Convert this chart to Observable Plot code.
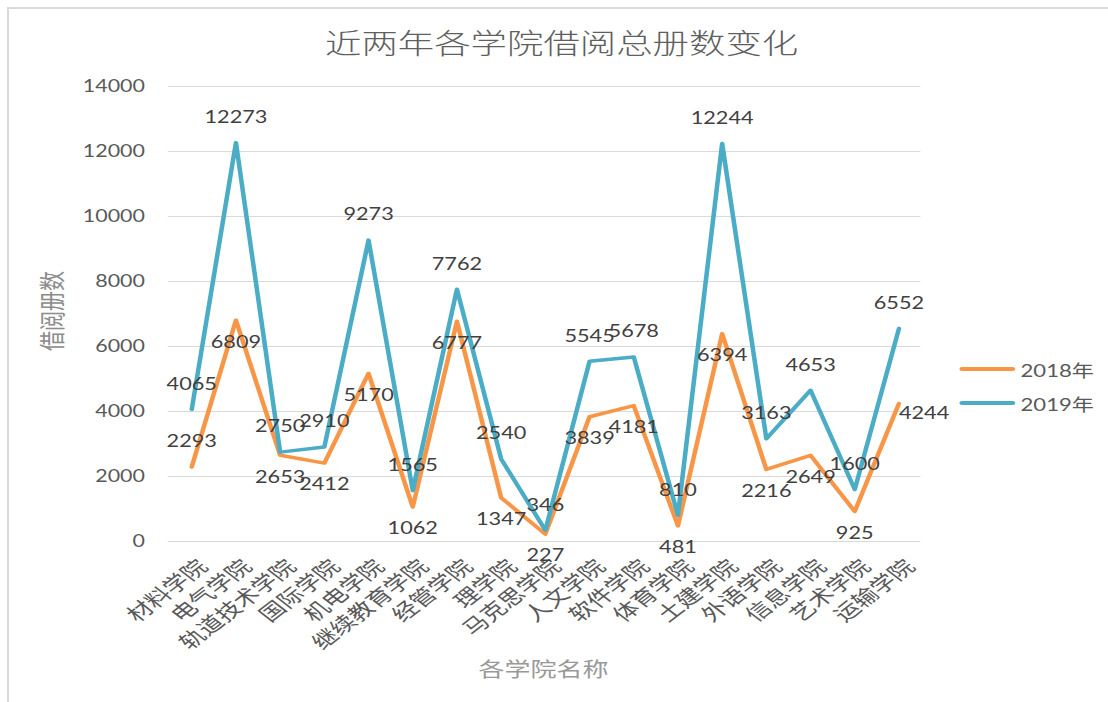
<!DOCTYPE html>
<html>
<head>
<meta charset="utf-8">
<script src="https://cdn.jsdelivr.net/npm/d3@7"></script>
<script src="https://cdn.jsdelivr.net/npm/@observablehq/plot@0.6"></script>
<style>
  html, body { margin: 0; padding: 0; background: #fff; overflow: hidden; }
  #frame { position: absolute; left: 7px; top: 7px; width: 1110px; height: 700px;
           border-top: 2px solid #d9d9d9; border-left: 2px solid #d9d9d9; }
  #wrap { position: absolute; left: 0; top: 0; width: 852px; height: 702px;
          transform: scaleX(1.3); transform-origin: 0 0; }
  #chart { position: absolute; left: 0; top: 0; }
  .abs { position: absolute; white-space: nowrap; transform: translate(-50%, -50%); }
  #title { left: 432px; top: 42px; font: 300 28px "Noto Sans CJK SC", sans-serif; color: #5f5f5f; }
  #ylabel { left: 39px; top: 311px; font: 20px "Noto Sans CJK SC", sans-serif; color: #8c8c8c;
            transform: translate(-50%, -50%) rotate(-90deg); }
  #xlabel { left: 418px; top: 668px; font: 20px "Noto Sans CJK SC", sans-serif; color: #999; }
  #legend { position: absolute; left: 738px; top: 352px; font: 17px Lato, "Noto Sans CJK SC", sans-serif; color: #595959; }
  .item { display: flex; align-items: center; height: 34px; }
  .swatch { width: 43px; height: 4px; border-radius: 2px; margin-right: 4px; }
  #chart g[aria-label="x-axis tick label"] text { font-family: "Noto Sans CJK SC", sans-serif; }
</style>
</head>
<body>
<div id="frame"></div>
<div id="wrap">
  <div id="chart"></div>
  <div id="title" class="abs">近两年各学院借阅总册数变化</div>
  <div id="ylabel" class="abs">借阅册数</div>
  <div id="xlabel" class="abs">各学院名称</div>
  <div id="legend"></div>
</div>
<script>
const categories = ["材料学院", "电气学院", "轨道技术学院", "国际学院", "机电学院", "继续教育学院",
  "经管学院", "理学院", "马克思学院", "人文学院", "软件学院", "体育学院", "土建学院",
  "外语学院", "信息学院", "艺术学院", "运输学院"];
const values2018 = [2293, 6809, 2653, 2412, 5170, 1062, 6777, 1347, 227, 3839, 4181, 481, 6394, 2216, 2649, 925, 4244];
const values2019 = [4065, 12273, 2750, 2910, 9273, 1565, 7762, 2540, 346, 5545, 5678, 810, 12244, 3163, 4653, 1600, 6552];
const years = ["2018年", "2019年"];
const colors = ["#F79646", "#4BACC6"];
const yTicks = [0, 2000, 4000, 6000, 8000, 10000, 12000, 14000];
// label placement (Excel-style per-label position)
const labelPos2018 = ["top", "bottom", "bottom", "bottom", "bottom", "bottom", "bottom", "bottom", "bottom",
  "bottom", "bottom", "bottom", "bottom", "bottom", "bottom", "bottom", "right"];
const labelPos2019 = categories.map(() => "top");

const data = [];
categories.forEach((c, i) => {
  data.push({college: c, year: years[0], value: values2018[i], pos: labelPos2018[i]});
  data.push({college: c, year: years[1], value: values2019[i], pos: labelPos2019[i]});
});

const labelStyle = {x: "college", y: "value", text: d => String(d.value), fill: "#404040",
  fontSize: 16.7, fontFamily: "Lato, sans-serif"};

const chart = Plot.plot({
  width: 852,
  height: 702,
  marginLeft: 129,
  marginRight: 144,
  marginTop: 86,
  marginBottom: 161,
  style: {background: "transparent", color: "#595959", overflow: "visible", fontFamily: "Lato, sans-serif"},
  x: {type: "point", domain: categories, padding: 0.5, label: null},
  y: {domain: [0, 14000], label: null},
  color: {domain: years, range: colors},
  marks: [
    Plot.gridY(yTicks, {stroke: "#d9d9d9", strokeOpacity: 1, strokeWidth: 1}),
    Plot.axisY(yTicks, {tickSize: 0, tickPadding: 18, fontSize: 16.5, tickFormat: d => String(d), label: null}),
    Plot.axisX({tickSize: 0, tickRotate: -45, tickPadding: 22, dx: 9, fontSize: 19.5, label: null}),
    Plot.line(data, {x: "college", y: "value", z: "year", stroke: "year", strokeWidth: 3.5,
      strokeLinejoin: "round", strokeLinecap: "round"}),
    Plot.text(data.filter(d => d.pos === "top"), {...labelStyle, dy: -25}),
    Plot.text(data.filter(d => d.pos === "bottom"), {...labelStyle, dy: 22}),
    Plot.text(data.filter(d => d.pos === "right"), {...labelStyle, dy: 10, dx: 0, textAnchor: "start"})
  ]
});
document.getElementById("chart").appendChild(chart);

const legend = document.getElementById("legend");
years.forEach((y, i) => {
  const item = document.createElement("div");
  item.className = "item";
  const sw = document.createElement("div");
  sw.className = "swatch";
  sw.style.background = colors[i];
  const t = document.createElement("span");
  t.textContent = y;
  item.appendChild(sw);
  item.appendChild(t);
  legend.appendChild(item);
});
</script>
</body>
</html>
